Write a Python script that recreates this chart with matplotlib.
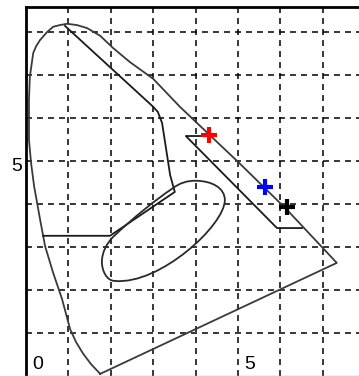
import matplotlib
matplotlib.use("Agg")
import matplotlib.pyplot as plt
from matplotlib.path import Path
from matplotlib.patches import PathPatch
from matplotlib.transforms import ScaledTranslation

# ---- data (chart units) ----
locus_x = [1.75, 1.53, 1.34, 1.18, 1.04, 0.85, 0.64, 0.45, 0.33, 0.19, 0.12, 0.07,
           0.07, 0.07, 0.09, 0.17, 0.24, 0.33, 0.50, 0.64, 0.80, 0.97, 1.20, 1.44,
           1.75, 2.05, 2.45, 3.00, 3.63, 5.00, 6.16, 7.33, 1.75]
locus_y = [0.05, 0.28, 0.53, 0.79, 1.09, 1.79, 2.40, 3.02, 3.65, 4.42, 4.95, 5.49,
           6.00, 6.42, 6.95, 7.51, 7.67, 7.81, 8.00, 8.12, 8.16, 8.19, 8.16, 8.09,
           7.91, 7.63, 7.30, 6.91, 6.26, 4.98, 3.86, 2.63, 0.05]

inner_x = [0.40, 1.98, 3.51, 3.47, 3.40, 3.21, 3.11, 3.00, 0.92]
inner_y = [3.26, 3.26, 4.28, 4.42, 4.67, 5.88, 6.14, 6.26, 8.14]

wedge_x = [4.27, 3.77, 5.92, 6.51]
wedge_y = [5.58, 5.58, 3.44, 3.44]

# closed loop as cubic Bezier segments (anchor, ctrl, ctrl, anchor, ...)
loop_x = [3.99, 4.39, 4.69, 4.69, 4.69, 3.16, 2.10, 1.89, 1.79, 1.79,
          1.79, 1.91, 2.05, 2.52, 3.04, 3.47, 3.63, 3.80, 3.99]
loop_y = [4.54, 4.54, 4.37, 4.09, 3.51, 2.12, 2.21, 2.21, 2.47, 2.65,
          2.88, 3.09, 3.23, 3.67, 4.09, 4.37, 4.49, 4.54, 4.54]

marker_x = [4.32, 5.64, 6.16]
marker_y = [5.60, 4.40, 3.93]
marker_colors = ["#ff0000", "#0000ff", "#000000"]

x_ticks = [0, 5]
x_labels = ["0", "5"]
y_ticks = [5]
y_labels = ["5"]
grid_x = [1, 2, 3, 4, 5, 6, 7]
grid_y = [1, 2, 3, 4, 5, 6, 7, 8]
x_lim = (0, 7.854)
y_lim = (0, 8.58)

# ---- figure ----
W, H = 359, 376
fig = plt.figure(figsize=(W / 100, H / 100), dpi=100)
ax = fig.add_axes([26 / W, 0, 333 / W, 369 / H])
ax.set_xlim(*x_lim)
ax.set_ylim(*y_lim)

for gx in grid_x:
    ax.axvline(gx, color="black", lw=1.1, ls=(0, (3.9, 3.3)), zorder=1)
for gy in grid_y:
    ax.axhline(gy, color="black", lw=1.1, ls=(0, (3.9, 3.3)), zorder=1)

ax.plot(locus_x, locus_y, color="#3a3a3a", lw=1.3, zorder=2, solid_joinstyle="round")
ax.plot(inner_x, inner_y, color="#1a1a1a", lw=1.3, zorder=2, solid_joinstyle="round")
ax.plot(wedge_x, wedge_y, color="#1a1a1a", lw=1.3, zorder=2)

codes = [Path.MOVETO] + [Path.CURVE4] * (len(loop_x) - 1)
loop_path = Path(list(zip(loop_x, loop_y)), codes)
ax.add_patch(PathPatch(loop_path, fill=False, edgecolor="#2a2a2a", lw=1.3, zorder=2))

for mx, my, mc in zip(marker_x, marker_y, marker_colors):
    ax.plot([mx], [my], marker="+", ms=11.5, mew=3.0, color=mc, zorder=3, ls="none")

# spines
ax.spines["right"].set_visible(False)
ax.spines["left"].set_linewidth(2.0)
ax.spines["top"].set_linewidth(2.0)
ax.spines["bottom"].set_color("#bbbbbb")
ax.spines["bottom"].set_linewidth(1.0)

font = ["Liberation Sans", "DejaVu Sans"]
ax.set_xticks(x_ticks)
ax.set_xticklabels(x_labels, family=font, fontsize=14)
ax.set_yticks(y_ticks)
ax.set_yticklabels(y_labels, family=font, fontsize=14)
ax.tick_params(axis="x", length=0, pad=-14.5)
ax.tick_params(axis="y", length=0, pad=2.5)
for lab in ax.get_xticklabels():
    lab.set_transform(lab.get_transform() + ScaledTranslation(0.12, 0, fig.dpi_scale_trans))
for lab in ax.get_yticklabels():
    lab.set_transform(lab.get_transform() + ScaledTranslation(0, -0.035, fig.dpi_scale_trans))

fig.savefig("out.png", dpi=100)
